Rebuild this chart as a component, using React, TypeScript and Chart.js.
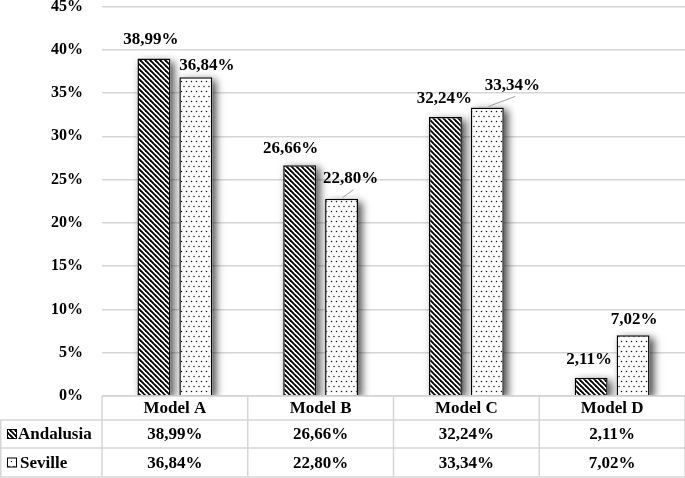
import React, { useEffect, useRef } from "react";
import { Chart, registerables } from "chart.js";

Chart.register(...registerables);

const categories = ["Model A", "Model B", "Model C", "Model D"];
const seriesNames = ["Andalusia", "Seville"];
const andalusia = [38.99, 26.66, 32.24, 2.11];
const seville = [36.84, 22.8, 33.34, 7.02];
const yMin = 0;
const yMax = 45;
const yStep = 5;

const FONT = "'Liberation Serif', 'Times New Roman', serif";
const fmt = (v: number) => v.toFixed(2).replace(".", ",") + "%";

function stripePattern(): CanvasPattern | string {
  const p = 5;
  const c = document.createElement("canvas");
  c.width = p;
  c.height = p;
  const g = c.getContext("2d")!;
  g.fillStyle = "#fff";
  g.fillRect(0, 0, p, p);
  g.strokeStyle = "#000";
  g.lineWidth = 1.9;
  for (const k of [-p, 0, p]) {
    g.beginPath();
    g.moveTo(k - 1, -1);
    g.lineTo(k + p + 1, p + 1);
    g.stroke();
  }
  return g.createPattern(c, "repeat") || "#444";
}

function dotPattern(): CanvasPattern | string {
  const c = document.createElement("canvas");
  c.width = 5;
  c.height = 10;
  const g = c.getContext("2d")!;
  g.fillStyle = "#fff";
  g.fillRect(0, 0, 5, 10);
  g.fillStyle = "#111";
  g.beginPath();
  g.arc(1.5, 1.5, 0.75, 0, Math.PI * 2);
  g.arc(4, 6.5, 0.75, 0, Math.PI * 2);
  g.fill();
  return g.createPattern(c, "repeat") || "#eee";
}

export default function App() {
  const ref = useRef<HTMLCanvasElement | null>(null);

  useEffect(() => {
    document.body.style.margin = "0";
    const canvas = ref.current!;
    const stripes = stripePattern();
    const dots = dotPattern();
    const patterns = [stripes, dots];

    // label nudges (dx, dy from bar center / bar top) and leader lines
    const labelNudge = [
      [[-3, -19], [-9, -17], [-1, -18], [-2, -18]],
      [[11, -12], [9, -20], [25, -22], [1, -16]],
    ];
    const leader = [
      [false, false, false, false],
      [false, true, true, false],
    ];

    const shadowPlugin = {
      id: "barShadow",
      beforeDatasetsDraw(chart: any) {
        const ctx = chart.ctx;
        ctx.save();
        ctx.shadowColor = "rgba(0,0,0,0.7)";
        ctx.shadowBlur = 8;
        ctx.shadowOffsetX = 4;
        ctx.shadowOffsetY = 3;
        ctx.fillStyle = "#fff";
        const { left, right, top, bottom } = chart.chartArea;
        ctx.beginPath();
        ctx.rect(left, top - 40, right - left, bottom - top + 40);
        ctx.clip();
        chart.data.datasets.forEach((_: any, di: number) => {
          const meta = chart.getDatasetMeta(di);
          meta.data.forEach((el: any) => {
            const w = el.width;
            ctx.fillRect(el.x - w / 2, el.y, w, el.base - el.y);
          });
        });
        ctx.restore();
      },
    };

    const labelPlugin = {
      id: "valueLabels",
      afterDatasetsDraw(chart: any) {
        const ctx = chart.ctx;
        ctx.save();
        ctx.font = `bold 17px ${FONT}`;
        ctx.fillStyle = "#000";
        ctx.textAlign = "center";
        ctx.textBaseline = "middle";
        chart.data.datasets.forEach((ds: any, di: number) => {
          const meta = chart.getDatasetMeta(di);
          meta.data.forEach((el: any, i: number) => {
            const [dx, dy] = labelNudge[di][i];
            const lx = el.x + dx;
            const ly = el.y + dy;
            if (leader[di][i]) {
              ctx.strokeStyle = "#a0a0a0";
              ctx.lineWidth = 1;
              ctx.beginPath();
              ctx.moveTo(lx + 3, ly + 11);
              ctx.lineTo(el.x + 1, el.y - 1);
              ctx.stroke();
            }
            ctx.fillText(fmt(ds.data[i]), lx, ly);
          });
        });
        ctx.restore();
      },
    };

    const tablePlugin = {
      id: "dataTable",
      afterDraw(chart: any) {
        const ctx = chart.ctx;
        const { left, right, bottom } = chart.chartArea;
        const n = categories.length;
        const colW = (right - left) / n;
        const rowY = [bottom, bottom + 24, bottom + 52, bottom + 81];
        ctx.save();
        ctx.strokeStyle = "#d6d6d6";
        ctx.lineWidth = 1.5;
        ctx.beginPath();
        ctx.moveTo(left, rowY[0]);
        ctx.lineTo(right, rowY[0]);
        for (let r = 1; r < rowY.length; r++) {
          ctx.moveTo(0, rowY[r]);
          ctx.lineTo(right, rowY[r]);
        }
        for (let c = 0; c <= n; c++) {
          const x = left + c * colW;
          ctx.moveTo(x, rowY[0]);
          ctx.lineTo(x, rowY[3]);
        }
        ctx.moveTo(0.75, rowY[1]);
        ctx.lineTo(0.75, rowY[3]);
        ctx.stroke();

        ctx.fillStyle = "#000";
        ctx.textBaseline = "middle";
        ctx.textAlign = "center";
        ctx.font = `bold 17px ${FONT}`;
        categories.forEach((cat, i) => {
          ctx.fillText(cat, left + (i + 0.5) * colW, (rowY[0] + rowY[1]) / 2 + 1);
        });
        const series = [andalusia, seville];
        series.forEach((vals, r) => {
          const cy = (rowY[r + 1] + rowY[r + 2]) / 2 + 1;
          vals.forEach((v, i) => {
            ctx.fillText(fmt(v), left + (i + 0.5) * colW, cy);
          });
        });
        // legend keys
        ctx.textAlign = "left";
        seriesNames.forEach((name, r) => {
          const cy = (rowY[r + 1] + rowY[r + 2]) / 2;
          ctx.fillStyle = patterns[r] as any;
          ctx.fillRect(7, cy - 5, 10, 10);
          ctx.strokeStyle = "#000";
          ctx.lineWidth = 1;
          ctx.strokeRect(7.5, cy - 4.5, 9, 9);
          ctx.fillStyle = "#000";
          ctx.fillText(name, r === 0 ? 18 : 20, cy + 1);
        });
        ctx.restore();
      },
    };

    const chart = new Chart(canvas, {
      type: "bar",
      data: {
        labels: categories,
        datasets: [
          {
            label: seriesNames[0],
            data: andalusia,
            backgroundColor: stripes as any,
            borderColor: "#000",
            borderWidth: 1.5,
            barPercentage: 0.786,
            categoryPercentage: 0.575,
          },
          {
            label: seriesNames[1],
            data: seville,
            backgroundColor: dots as any,
            borderColor: "#000",
            borderWidth: 1.5,
            barPercentage: 0.786,
            categoryPercentage: 0.575,
          },
        ],
      },
      options: {
        responsive: false,
        animation: false,
        events: [],
        layout: { padding: { top: 6.5, right: 0, bottom: 82, left: 0 } },
        plugins: {
          legend: { display: false },
          tooltip: { enabled: false },
        },
        scales: {
          x: { display: false },
          y: {
            min: yMin,
            max: yMax,
            ticks: {
              stepSize: yStep,
              padding: 19,
              color: "#000",
              font: { family: FONT, size: 16, weight: "bold" },
              callback: (v: any) => `${v}%`,
            },
            grid: { color: "#d6d6d6", lineWidth: 1.5, drawTicks: false },
            border: { display: false },
            afterFit: (s: any) => {
              s.width = 102;
              s.paddingTop = 0;
              s.paddingBottom = 0;
            },
          },
        },
      },
      plugins: [shadowPlugin, labelPlugin, tablePlugin],
    });
    return () => chart.destroy();
  }, []);

  return (
    <div style={{ width: 685, height: 478 }}>
      <canvas ref={ref} width={685} height={478} style={{ display: "block" }} />
    </div>
  );
}
